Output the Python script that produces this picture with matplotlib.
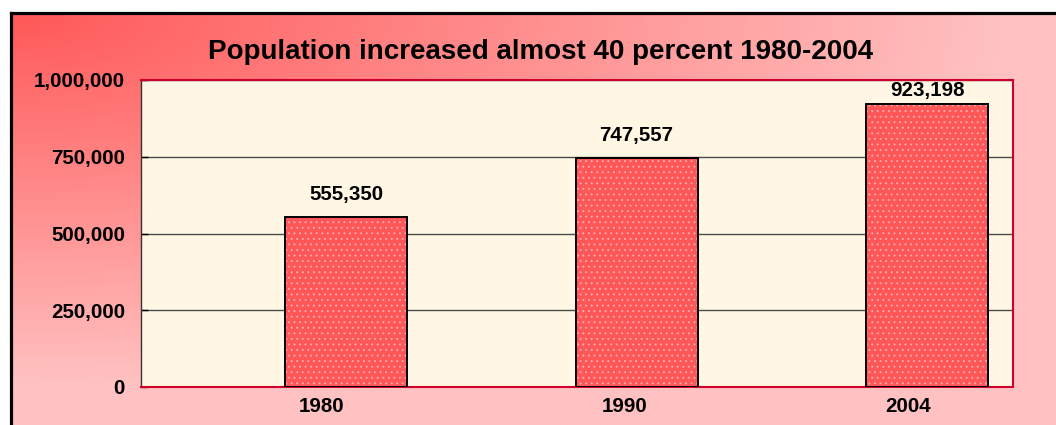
import matplotlib
matplotlib.use('Agg')
import matplotlib.pyplot as plt
import numpy as np
from matplotlib.lines import Line2D
from matplotlib.ticker import FuncFormatter
from matplotlib.transforms import ScaledTranslation

# ---- data ----
years = ['1980', '1990', '2004']
population = [555350, 747557, 923198]
y_ticks = [0, 250000, 500000, 750000, 1000000]
title_text = 'Population increased almost 40 percent 1980-2004'

plt.rcParams['font.family'] = ['Liberation Sans', 'DejaVu Sans']
plt.rcParams['font.weight'] = 'bold'
plt.rcParams['hatch.linewidth'] = 0.7

W, H = 1056, 425
DPI = 100
fig = plt.figure(figsize=(W / DPI, H / DPI), dpi=DPI, facecolor='white')

# ---- gradient background inside black frame ----
fx0 = 11 / W
fy1 = 1 - 13 / H
bg = fig.add_axes([fx0, 0, 1 - fx0, fy1])
bg.set_axis_off()
nx, ny = 600, 250
u = np.linspace(0, 1, nx)[None, :]
v = np.linspace(0, 1, ny)[:, None]
t = np.clip(np.sqrt((u / 0.95) ** 2 + (v / 0.9) ** 2), 0, 1)
c0 = np.array([255, 88, 88]) / 255
c1 = np.array([255, 193, 193]) / 255
img = c0 + (c1 - c0) * t[..., None]
bg.imshow(img, aspect='auto', interpolation='bilinear')

fig.add_artist(Line2D([fx0, fx0], [0, fy1], transform=fig.transFigure,
                      color='black', lw=2.3, solid_capstyle='projecting'))
fig.add_artist(Line2D([fx0, 1], [fy1, fy1], transform=fig.transFigure,
                      color='black', lw=2.3, solid_capstyle='projecting'))

# ---- plot area ----
px_l, px_r, px_t, px_b = 141, 1013, 80, 387
ax = fig.add_axes([px_l / W, 1 - px_b / H, (px_r - px_l) / W, (px_b - px_t) / H])
ax.set_facecolor('#FFF7E4')

x = np.arange(len(years))
bar_w = 0.42
ax.bar(x, population, width=bar_w, color='#FF5757', edgecolor='#FFA8A8',
       hatch='...', linewidth=0, zorder=3)
ax.bar(x, population, width=bar_w, facecolor='none', edgecolor='black',
       linewidth=1.4, zorder=4)

ax.set_xlim(-0.706, 2.296)
ax.set_ylim(y_ticks[0], y_ticks[-1])
ax.set_yticks(y_ticks)
ax.yaxis.set_major_formatter(FuncFormatter(lambda v, p: f'{int(v):,}'))
ax.set_xticks(x)
ax.set_xticklabels(years)

ax.yaxis.grid(True, color='#4a4a4a', lw=1.0)
ax.set_axisbelow(True)
for s in ['top', 'right', 'bottom']:
    ax.spines[s].set_color('#D0002A')
    ax.spines[s].set_linewidth(1.5)
ax.spines['left'].set_color('#333333')
ax.spines['left'].set_linewidth(1.0)

ax.tick_params(axis='y', direction='in', length=5, width=1, color='black',
               pad=11.5, labelsize=14.8)
ax.tick_params(axis='x', length=0, pad=7, labelsize=14.8)
for lab in ax.get_yticklabels() + ax.get_xticklabels():
    lab.set_fontweight('bold')

label_shift_px = [-25, -12, -19]
for lab, dx in zip(ax.get_xticklabels(), label_shift_px):
    lab.set_transform(lab.get_transform() + ScaledTranslation(dx / DPI, 0, fig.dpi_scale_trans))

# ---- value labels (kept inside plot area like Excel) ----
plot_h_px = px_b - px_t
for xi, val in zip(x, population):
    headroom = (y_ticks[-1] - val) / (y_ticks[-1] - y_ticks[0]) * plot_h_px
    gap = min(17, headroom - 16)
    ax.annotate(f'{val:,}', xy=(xi, val), xytext=(0, gap * 72 / DPI),
                textcoords='offset points', ha='center', va='baseline',
                fontsize=14.8, fontweight='bold', zorder=5)

fig.text(541 / W, 1 - 59 / H, title_text, ha='center', va='baseline',
         fontsize=20, fontweight='bold')

fig.savefig('out.png', dpi=DPI, facecolor='white')
